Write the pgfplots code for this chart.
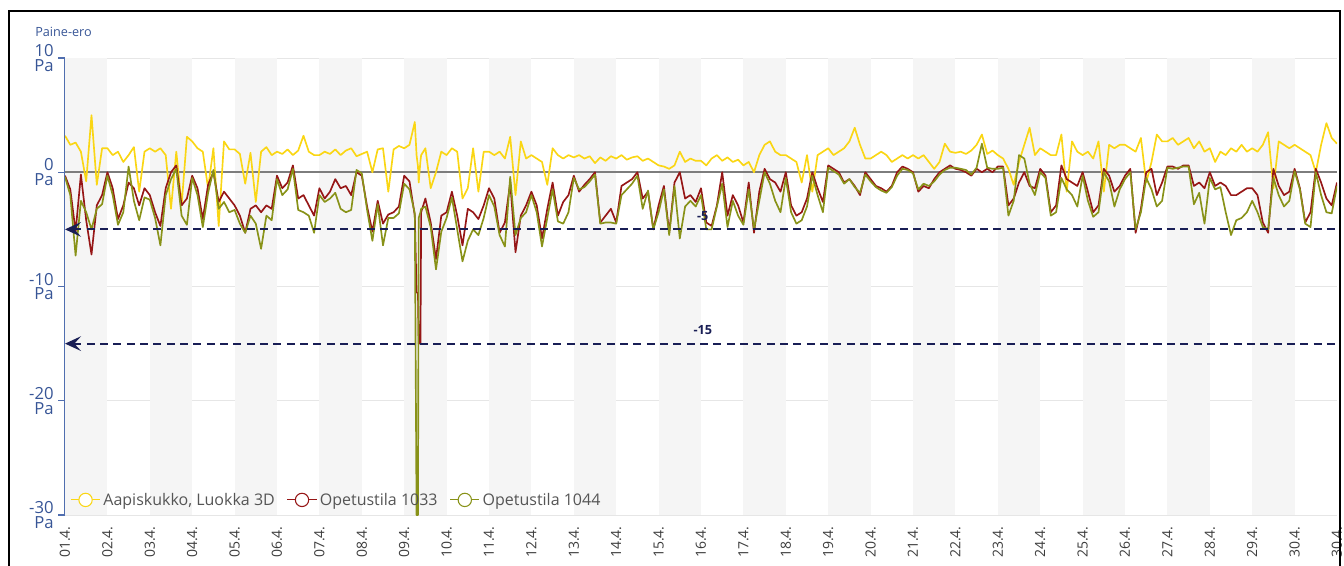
\documentclass[border=0pt]{standalone}
\usepackage{fontspec}
\setmainfont{Open Sans}
\usepackage{pgfplots}
\usepackage{pgfplotstable}
\pgfplotsset{compat=1.18}
\usetikzlibrary{arrows.meta}
\definecolor{cY}{RGB}{250,214,20}
\definecolor{cR}{RGB}{150,22,22}
\definecolor{cO}{RGB}{136,146,24}
\definecolor{axblue}{RGB}{80,110,175}
\definecolor{lblblue}{RGB}{55,85,150}
\definecolor{navyc}{RGB}{25,30,85}
\definecolor{stripe}{RGB}{245,245,245}
\definecolor{gridc}{RGB}{230,230,230}
\definecolor{zeroc}{RGB}{125,125,125}

\pgfplotstableread{
h y r o
0 3.2 -0.3 -0.4
3 2.4 -1.5 -2.0
6 2.6 -5.2 -7.3
9 1.8 -0.2 -2.5
12 -0.8 -4.2 -3.5
15 5.0 -7.2 -5.0
18 -1.1 -2.9 -3.2
21 2.1 -2.0 -2.8
24 2.1 0.0 -0.3
27 1.5 -1.4 -2.0
30 1.8 -4.1 -4.6
33 0.9 -2.9 -3.5
36 1.5 -0.9 0.5
39 2.2 -1.4 -2.5
42 -1.7 -2.9 -4.2
45 1.8 -1.4 -2.2
48 2.1 -2.0 -2.4
51 1.8 -3.5 -4.0
54 2.1 -4.7 -6.4
57 1.5 -1.4 -2.0
60 -3.2 0.0 -0.6
63 1.8 0.6 0.3
66 -2.9 -2.9 -3.8
69 3.1 -2.3 -4.6
72 2.7 -0.3 -0.5
75 2.1 -1.4 -2.0
78 1.8 -4.1 -4.8
81 -1.4 -1.1 -1.8
84 2.1 0.0 0.2
87 -4.7 -2.6 -3.2
90 2.7 -1.7 -2.6
93 2.0 -2.3 -3.5
96 2.0 -2.9 -3.3
99 1.6 -3.8 -4.5
102 -1.0 -5.3 -5.3
105 1.7 -3.2 -3.8
108 -2.6 -2.9 -4.5
111 1.8 -3.5 -6.7
114 2.2 -2.9 -3.8
117 1.5 -3.2 -4.2
120 1.8 -0.3 -0.6
123 1.6 -1.4 -2.0
126 2.0 -0.9 -1.5
129 1.5 0.6 0.3
132 1.9 -2.3 -3.3
135 3.2 -2.0 -3.5
138 1.8 -2.9 -3.8
141 1.5 -3.8 -5.3
144 1.5 -1.4 -2.0
147 1.8 -2.3 -2.6
150 1.6 -1.7 -2.3
153 2.0 -0.6 -1.8
156 1.5 -1.4 -3.2
159 1.9 -1.2 -3.5
162 2.1 -2.0 -3.3
165 1.4 0.0 0.2
168 1.6 -0.3 -0.1
171 1.8 -3.0 -3.3
174 0.0 -5.2 -6.0
177 2.0 -2.5 -2.8
180 2.1 -4.5 -6.4
183 -1.7 -3.7 -4.0
186 2.0 -3.5 -4.0
189 2.3 -3.0 -3.6
192 2.1 -0.3 -1.0
195 2.4 -0.8 -1.5
198 4.4 -3.8 -3.6
199 1.5 -10.5 -30
199.8 0.5 -10.6 -30
200.2 -0.9 -15 -4.0
201.2 1.0 -15 -3.5
201.6 1.5 -3.5 -3.2
204 2.1 -2.3 -3.0
207 -1.4 -4.4 -4.8
210 0.0 -7.6 -8.5
213 1.8 -3.8 -5.2
216 1.5 -3.5 -4.0
219 2.1 -1.7 -2.2
222 1.8 -3.8 -5.0
225 -2.3 -6.4 -7.8
228 -1.4 -3.2 -6.0
231 2.1 -3.5 -5.0
234 -1.7 -4.1 -5.5
237 1.8 -2.9 -4.0
240 1.8 -1.4 -2.0
243 1.5 -2.3 -3.0
246 1.8 -5.3 -5.5
249 1.2 -4.4 -6.5
252 3.1 -0.9 -0.4
255 -2.0 -7.0 -5.5
258 2.7 -3.8 -4.0
261 1.2 -2.9 -3.5
264 1.5 -1.7 -2.0
267 1.2 -2.9 -3.5
270 0.9 -5.8 -6.5
273 -1.1 -3.2 -4.0
276 2.1 -0.9 -1.5
279 1.5 -3.8 -4.3
282 1.2 -2.6 -4.5
285 1.5 -2.0 -3.5
288 1.3 -0.3 -0.5
291 1.5 -1.7 -1.5
294 1.2 -1.1 -1.3
297 1.4 -0.6 -0.8
300 0.8 0.0 -0.2
303 1.3 -4.4 -4.5
306 1.0 -3.8 -4.4
309 1.4 -3.2 -4.4
312 1.2 -4.4 -4.5
315 1.5 -1.2 -2.0
318 1.1 -0.9 -1.5
321 1.3 -0.6 -1.0
324 1.4 0.0 -0.3
327 1.0 -2.3 -3.2
330 1.2 -1.7 -1.6
333 0.9 -5.0 -5.0
336 0.6 -2.9 -3.5
339 0.5 -1.2 -1.5
342 0.3 -5.3 -5.5
345 0.6 -0.9 -1.2
348 1.8 0.0 -5.8
351 0.9 -2.3 -3.0
354 1.2 -2.0 -2.5
357 1.0 -2.6 -3.0
360 1.0 -1.4 -2.0
363 0.6 -4.4 -5.0
366 1.2 -4.7 -5.0
369 1.5 -2.9 -3.0
372 1.0 0.0 -1.0
375 1.3 -3.8 -4.8
378 0.9 -2.0 -2.5
381 1.1 -2.9 -3.8
384 0.6 -4.4 -4.6
387 0.9 -0.9 -1.5
390 0.0 -5.3 -5.0
393 1.5 -1.7 -2.5
396 2.4 0.3 0.0
399 2.7 -0.6 -1.0
402 1.8 -0.9 -2.5
405 1.5 -1.7 -3.5
408 1.5 0.0 -0.5
411 1.2 -2.9 -3.5
414 0.9 -3.8 -4.5
417 -0.9 -3.5 -4.2
420 1.5 -2.3 -3.0
423 -1.7 0.0 -0.3
426 1.5 -1.4 -2.0
429 1.8 -2.6 -3.5
432 2.1 0.6 0.4
435 1.5 0.3 0.1
438 1.8 0.0 -0.2
441 2.1 -0.9 -1.0
444 2.7 -0.6 -0.6
447 3.9 -1.2 -1.3
450 2.4 -2.0 -1.8
453 1.2 0.0 -0.2
456 1.2 -0.6 -0.8
459 1.5 -1.2 -1.3
462 1.8 -1.4 -1.6
465 1.5 -1.7 -1.8
468 0.9 -1.2 -1.3
471 1.2 0.0 -0.3
474 1.5 0.5 0.3
477 1.2 0.3 0.2
480 1.5 0.0 -0.1
483 1.2 -1.7 -1.5
486 1.5 -1.2 -1.0
489 0.9 -1.4 -1.2
492 0.3 -0.6 -0.8
495 0.9 0.0 -0.2
498 2.5 0.3 0.2
501 1.8 0.6 0.4
504 1.7 0.3 0.4
507 1.8 0.2 0.3
510 1.6 0.0 0.2
513 1.9 -0.3 -0.2
516 2.4 0.3 0.4
519 3.3 0.0 2.5
522 1.6 0.3 0.4
525 1.9 0.0 0.3
528 1.5 0.5 0.3
531 1.2 0.5 0.4
534 0.3 -2.9 -3.8
537 -1.1 -2.3 -2.5
540 0.9 -0.9 1.5
543 2.4 0.0 1.2
546 3.9 -1.2 -1.0
549 1.5 -1.4 -2.0
552 2.1 0.3 0.0
555 1.8 -0.3 -0.5
558 1.5 -3.5 -3.8
561 1.5 -2.9 -3.5
564 3.3 0.6 -0.5
567 -1.7 -0.6 -1.5
570 2.7 -0.9 -2.0
573 1.8 -1.2 -3.0
576 1.5 0.0 -0.3
579 1.8 -1.7 -2.5
582 1.2 -3.5 -3.9
585 2.7 -2.9 -3.5
588 -1.7 0.3 0.0
591 2.4 -0.3 -0.8
594 2.1 -1.7 -3.0
597 2.4 -1.2 -1.5
600 2.4 -0.3 -0.6
603 2.1 0.3 0.0
606 1.8 -5.3 -5.0
609 3.0 -3.2 -3.5
612 -0.9 0.0 -0.5
615 0.9 0.3 -1.5
618 3.3 -2.0 -3.0
621 2.7 -0.9 -2.5
624 2.7 0.5 0.4
627 3.0 0.5 0.3
630 2.4 0.3 0.4
633 2.7 0.6 0.5
636 3.0 0.6 0.5
639 2.1 -1.2 -2.8
642 2.7 -0.9 -1.8
645 1.8 -1.4 -4.5
648 2.1 0.0 -0.5
651 0.9 -1.2 -1.5
654 1.8 -0.9 -1.3
657 1.5 -1.2 -3.5
660 2.1 -2.0 -5.5
663 1.8 -2.0 -4.2
666 2.4 -1.7 -4.0
669 1.8 -1.4 -3.5
672 2.1 -1.4 -2.5
675 1.8 -2.0 -3.5
678 2.4 -4.4 -4.8
681 3.5 -5.3 -5.0
684 -1.4 0.3 -0.5
687 2.7 -1.2 -2.0
690 2.4 -2.0 -3.0
693 2.1 -1.7 -2.5
696 2.4 0.3 0.1
699 2.1 -1.4 -1.5
702 1.8 -4.4 -4.5
705 1.5 -3.5 -4.8
708 0.0 0.3 0.0
711 2.4 -0.9 -2.0
714 4.3 -2.3 -3.5
717 3.0 -2.9 -3.6
720 2.5 -0.9 -1.2
}\data

\begin{document}
\begin{tikzpicture}
\begin{axis}[
  at={(0,0)}, anchor=south west,
  scale only axis, width=954pt, height=342.75pt,
  xmin=0, xmax=720, ymin=-30, ymax=10,
  set layers,
  axis lines*=left,
  x axis line style={draw=none},
  y axis line style={draw=axblue, line width=0.8pt},
  tick align=outside,
  major tick length=5pt,
  xtick={0,24,...,720},
  xticklabels={01.4.,02.4.,03.4.,04.4.,05.4.,06.4.,07.4.,08.4.,09.4.,10.4.,11.4.,12.4.,13.4.,14.4.,15.4.,16.4.,17.4.,18.4.,19.4.,20.4.,21.4.,22.4.,23.4.,24.4.,25.4.,26.4.,27.4.,28.4.,29.4.,30.4.,30.4.},
  xtick style={draw=none},
  xticklabel style={rotate=90, anchor=east, font=\fontsize{10.5}{12}\selectfont, text={rgb,255:red,60;green,60;blue,60}},
  ytick={-30,-20,-10,0,10},
  yticklabels={{-30\\Pa},{-20\\Pa},{-10\\Pa},{0\\Pa},{10\\Pa}},
  yticklabel style={align=right, font=\fontsize{12.5}{11}\selectfont, text=lblblue},
  ytick style={draw=axblue, line width=0.8pt},
  ymajorgrids,
  grid style={gridc, line width=0.6pt},
  legend style={at={(0.004,0.033)}, anchor=west, draw=none, fill=none, inner sep=0pt,
    font=\fontsize{12}{14}\selectfont, text={rgb,255:red,85;green,85;blue,85},
    /tikz/every even column/.append style={column sep=7pt}},
  legend columns=-1,
  legend image code/.code={
    \draw[#1, line width=0.8pt] (0pt,0pt) -- (22pt,0pt);
    \draw[#1, line width=0.8pt, fill=white] (11pt,0pt) circle (5pt);},
]
\foreach \a/\b in {0/24,48/72,96/120,144/168,192/216,240/264,288/312,336/360,384/408,432/456,480/504,528/552,576/600,624/648,672/696} {
  \edef\tmp{\noexpand\fill[stripe, on layer=axis background] (axis cs:\a,-30) rectangle (axis cs:\b,10);}\tmp
}
\draw[zeroc, line width=1.3pt] (axis cs:0,0) -- (axis cs:720,0);
\addplot[cY, line width=1.25pt, line join=round] table[x=h, y=y] {\data};
\addlegendentry{Aapiskukko, Luokka 3D}
\addplot[cR, line width=1.25pt, line join=round] table[x=h, y=r] {\data};
\addlegendentry{Opetustila 1033}
\addplot[cO, line width=1.25pt, line join=round] table[x=h, y=o] {\data};
\addlegendentry{Opetustila 1044}
\draw[navyc, line width=1.5pt, dash pattern=on 6pt off 4pt, {Stealth[length=12pt,width=11pt,inset=5pt]}-] (axis cs:0,-5) -- (axis cs:720,-5);
\draw[navyc, line width=1.5pt, dash pattern=on 6pt off 4pt, {Stealth[length=12pt,width=11pt,inset=5pt]}-] (axis cs:0,-15) -- (axis cs:720,-15);
\node[navyc, font=\bfseries\fontsize{9.5}{11}\selectfont] at (axis cs:361,-3.8) {-5};
\node[navyc, font=\bfseries\fontsize{9.5}{11}\selectfont] at (axis cs:361,-13.8) {-15};
\end{axis}
\node[anchor=west, text=lblblue, font=\fontsize{9.5}{11}\selectfont, inner sep=0pt] at (-22.5pt,362.25pt) {Paine-ero};
\draw[line width=1.5pt] (-42pt,-60pt) -- (-42pt,378pt) -- (956.25pt,378pt) -- (956.25pt,-60pt);
\pgfresetboundingbox
\path[use as bounding box] (-48.75pt,-37.5pt) rectangle (959.25pt,386.25pt);
\end{tikzpicture}
\end{document}
